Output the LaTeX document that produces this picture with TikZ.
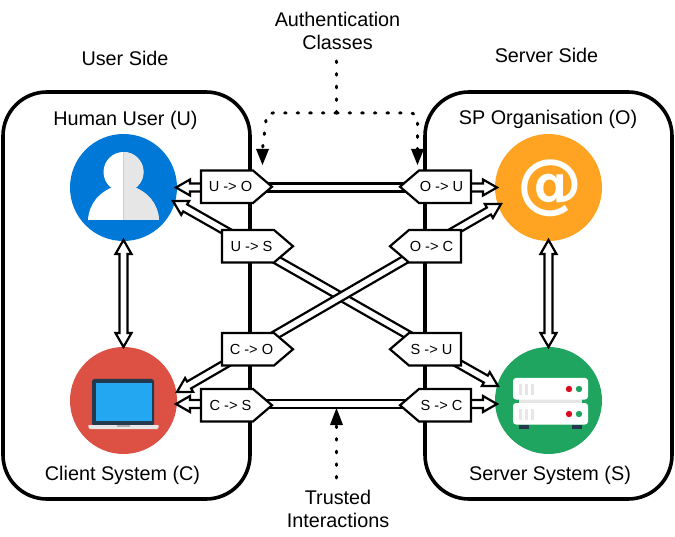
\documentclass[tikz,border=0pt]{standalone}
\usepackage{fontspec}
\setmainfont{Liberation Sans}
\newfontfamily\atfont{DejaVu Sans}
\usetikzlibrary{calc,arrows.meta}
\definecolor{uc}{HTML}{0078D7}
\definecolor{cc}{HTML}{DD5145}
\definecolor{oc}{HTML}{FFA422}
\definecolor{sc}{HTML}{20A560}
\definecolor{dk}{HTML}{24384E}
\definecolor{scr}{HTML}{22A7F0}
\definecolor{gy}{HTML}{E6E6E6}
\definecolor{rd}{HTML}{DC0A1E}
\tikzset{
  x=1pt,y=-1pt,
  sidebox/.style={draw=black,line width=3.6pt,rounded corners=44pt},
  hollow/.style={draw=black,fill=white,line width=2.2pt,line join=miter,miter limit=4},
  badgebox/.style={draw=black,fill=white,line width=2.2pt,line join=miter},
  badgetext/.style={inner sep=0pt,font=\fontsize{14.6}{17}\selectfont},
  label/.style={inner sep=0pt,align=center,font=\fontsize{19.8}{23}\selectfont},
  dots/.style={draw=black,line width=3pt,line cap=round,dash pattern=on 1.6pt off 11pt},
  tiptri/.style={fill=black,draw=none},
  spot/.style={circle,inner sep=0pt,minimum size=107pt},
}
% half widths: shaft 4pt, head 8pt, head length 14pt
\newcommand\harrow[2]{%
  \draw[hollow] ($(#1)!4pt!90:(#2)$)
    -- ($(#2)!14pt!(#1)!4pt!-90:(#1)$) -- ($(#2)!14pt!(#1)!8pt!-90:(#1)$)
    -- (#2)
    -- ($(#2)!14pt!(#1)!8pt!90:(#1)$) -- ($(#2)!14pt!(#1)!4pt!90:(#1)$)
    -- ($(#1)!4pt!-90:(#2)$) -- cycle;}
\newcommand\hharrow[2]{%
  \draw[hollow] ($(#1)!14pt!(#2)!4pt!90:(#2)$)
    -- ($(#2)!14pt!(#1)!4pt!-90:(#1)$) -- ($(#2)!14pt!(#1)!8pt!-90:(#1)$)
    -- (#2)
    -- ($(#2)!14pt!(#1)!8pt!90:(#1)$) -- ($(#2)!14pt!(#1)!4pt!90:(#1)$)
    -- ($(#1)!14pt!(#2)!4pt!-90:(#2)$) -- ($(#1)!14pt!(#2)!8pt!-90:(#2)$)
    -- (#1)
    -- ($(#1)!14pt!(#2)!8pt!90:(#2)$) -- cycle;}
\newcommand\hshaft[2]{%
  \draw[hollow] ($(#1)!4pt!90:(#2)$) -- ($(#2)!4pt!-90:(#1)$)
    -- ($(#2)!4pt!90:(#1)$) -- ($(#1)!4pt!-90:(#2)$) -- cycle;}
% #1 name, #2 left x, #3 top y, #4 text
\newcommand\badgeR[4]{%
  \draw[badgebox] (#2,#3) -- ++(52,0) -- ++(19,16.25) -- ++(-19,16.25) -- ++(-52,0) -- cycle;
  \node[badgetext] (#1) at ($(#2,#3)+(29.5,16.25)$) {#4};}
\newcommand\badgeL[4]{%
  \draw[badgebox] (#2,#3) -- ++(-52,0) -- ++(-19,16.25) -- ++(19,16.25) -- ++(52,0) -- cycle;
  \node[badgetext] (#1) at ($(#2,#3)+(-29.5,16.25)$) {#4};}
\begin{document}
\begin{tikzpicture}
\useasboundingbox (0,0) rectangle (675,537);
% side boxes
\draw[sidebox] (3,92) rectangle (250,499);
\draw[sidebox] (425,92) rectangle (672,499);
% circles
\node[spot,fill=uc] (U) at (123.5,187.5) {};
\node[spot,fill=cc] (C) at (123.5,400.5) {};
\node[spot,fill=oc] (O) at (548.5,187.5) {};
\node[spot,fill=sc] (S) at (548.5,400.5) {};
% person
\fill[white] (123.5,172) circle (20);
\fill[white] (88,220) .. controls (89,203) and (100,192) .. (113,187) -- (134,187) .. controls (147,192) and (158,203) .. (159,220) -- cycle;
\begin{scope}
\clip (123.5,140) rectangle (170,225);
\fill[gy] (123.5,172) circle (20);
\fill[gy] (88,220) .. controls (89,203) and (100,192) .. (113,187) -- (134,187) .. controls (147,192) and (158,203) .. (159,220) -- cycle;
\end{scope}
\draw[uc!30!white,line width=.7pt] (123.5,152) -- (123.5,220);
% laptop
\fill[dk,rounded corners=2.5pt] (92,379) rectangle (154,426);
\fill[scr] (96,383) rectangle (152,421);
\fill[gy,rounded corners=1pt] (88,425) -- (159,425) -- (158,429) -- (89,429) -- cycle;
\fill[black!30] (117,425) rectangle (130,427);
% server
\fill[gy] (519,398) rectangle (582,404);
\fill[white,rounded corners=3pt] (513,378) rectangle (588,399.5);
\fill[white,rounded corners=3pt] (513,403) rectangle (588,424.5);
\fill[dk] (519,424.5) rectangle (529,429);
\fill[dk] (572,424.5) rectangle (582,429);
\foreach \bx in {519,525,531}{
  \fill[gy] (\bx,384) rectangle +(3,11);
  \fill[gy] (\bx,409) rectangle +(3,11);
}
\foreach \dy in {389,414}{
  \fill[rd] (569,\dy) circle (3.2);
  \fill[sc] (579,\dy) circle (3.2);
}
% at sign
\node[inner sep=0pt,text=white,font=\atfont\bfseries\fontsize{65}{65}\selectfont] (at) at (549.5,188) {@};
% connector end points
\coordinate (Ut) at (176,187.5);
\coordinate (Ot) at (497,187.5);
\coordinate (Ct) at (176,404);
\coordinate (St) at (497,404);
\coordinate (Ud) at (173,201);
\coordinate (Sd) at (498,386);
\coordinate (Cd) at (177,392);
\coordinate (Od) at (501,204);
\coordinate (Uv) at (123.5,240);
\coordinate (Cv) at (123.5,347);
\coordinate (Ov) at (548.5,240);
\coordinate (Sv) at (548.5,347);
\coordinate (uoa) at (230,187.5);
\coordinate (oua) at (441,187.5);
\coordinate (csa) at (230,404);
\coordinate (sca) at (441,404);
\coordinate (usa) at (258,249.3);
\coordinate (sua) at (425,344.6);
\coordinate (coa) at (258,345);
\coordinate (oca) at (425,248);
% double connectors
\hharrow{Uv}{Cv}
\hharrow{Ov}{Sv}
\harrow{uoa}{Ut}\harrow{oua}{Ot}
\hshaft{uoa}{oua}
\harrow{csa}{Ct}\harrow{sca}{St}
\hshaft{csa}{sca}
\harrow{usa}{Ud}\harrow{sua}{Sd}
\hshaft{usa}{sua}
\harrow{coa}{Cd}\harrow{oca}{Od}
\hshaft{coa}{oca}
% badges
\badgeR{buo}{201}{170.5}{U -> O}
\badgeL{bou}{471}{170.5}{O -> U}
\badgeR{bus}{222}{230}{U -> S}
\badgeL{boc}{461}{230}{O -> C}
\badgeR{bco}{222}{333}{C -> O}
\badgeL{bsu}{461}{333}{S -> U}
\badgeR{bcs}{201}{389}{C -> S}
\badgeL{bsc}{471}{389}{S -> C}
% labels
\node[label] (auth) at (337.5,31) {Authentication\\[0pt]Classes};
\node[label] (trust) at (338,509) {Trusted\\[0pt]Interactions};
\node[label] at (125,58) {User Side};
\node[label] at (546.5,55) {Server Side};
\node[label] at (125.5,120) {Human User (U)};
\node[label] at (548,119) {SP Organisation (O)};
\node[label] at (122.5,475) {Client System (C)};
\node[label] at (550,475) {Server System (S)};
% dotted annotations
\coordinate (aj) at (336.5,113);
\coordinate (al) at (262.5,149);
\coordinate (ar) at (417.5,149);
\coordinate (tl) at (336.5,425);
\draw[dots] (336.5,61) -- (aj);
\draw[dots] (aj) -- (273,113) .. controls (267,113) and (266,115) .. (266,120) -- (al);
\draw[dots] (aj) -- (408,113) .. controls (415,113) and (417.5,115) .. (417.5,120) -- (ar);
\fill[tiptri] (256,149) -- (269,149) -- (262.5,165) -- cycle;
\fill[tiptri] (411,149) -- (424,149) -- (417.5,165) -- cycle;
\draw[dots] (336.5,478) -- (tl);
\fill[tiptri] (330,425) -- (343,425) -- (336.5,408) -- cycle;
\end{tikzpicture}
\end{document}
